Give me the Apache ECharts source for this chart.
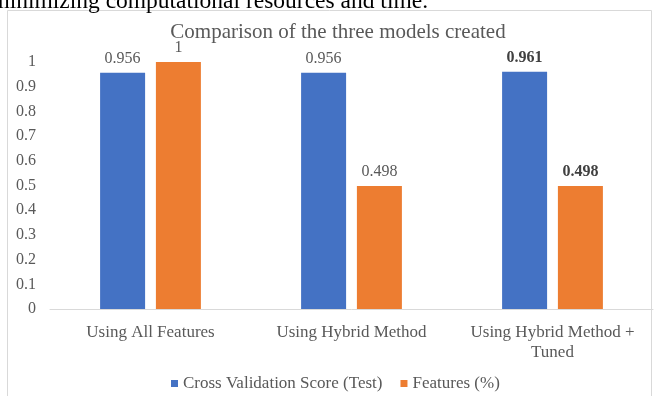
<!DOCTYPE html>
<html>
<head>
<meta charset="utf-8">
<script src="https://cdn.jsdelivr.net/npm/echarts@6/dist/echarts.min.js"></script>
<style>
html,body{margin:0;padding:0;background:#fff;}
#c{width:655px;height:396px;}
</style>
</head>
<body>
<div id="c"></div>
<script>
var categories = ['Using All Features', 'Using Hybrid Method', 'Using Hybrid Method +\nTuned'];
var cvScore = [0.956, 0.956, 0.961];
var featuresPct = [1, 0.498, 0.498];
var seriesNames = ['Cross Validation Score (Test)', 'Features (%)'];
var titleText = 'Comparison of the three models created';
var pageText = 'minimizing computational resources and time.';
var boldIndex = 2;

var serif = "'Liberation Serif', 'DejaVu Serif', serif";
function mk(vals) {
  return vals.map(function (v, i) {
    if (i === boldIndex) {
      return { value: v, label: { fontWeight: 'bold', color: '#404040' } };
    }
    return v;
  });
}

var chart = echarts.init(document.getElementById('c'));
chart.setOption({
  animation: false,
  backgroundColor: '#fff',
  title: {
    text: titleText,
    left: 333, top: 17, textAlign: 'center',
    textStyle: { fontFamily: serif, fontSize: 21, fontWeight: 'normal', color: '#595959' }
  },
  graphic: [
    { type: 'rect', shape: { x: 7.5, y: 10.5, width: 644, height: 400 },
      style: { fill: 'none', stroke: '#d9d9d9', lineWidth: 1 }, z: -1 },
    { type: 'text', x: 428, y: 14,
      style: { text: pageText, fontFamily: serif, fontSize: 23.5, fill: '#000',
               textAlign: 'right', textVerticalAlign: 'bottom' } }
  ],
  legend: {
    data: seriesNames,
    top: 370, left: 166,
    icon: 'rect', itemWidth: 7, itemHeight: 7, itemGap: 18,
    textStyle: { fontFamily: serif, fontSize: 17, color: '#595959' }
  },
  grid: { left: 50, right: 2, top: 62, bottom: 87, containLabel: false },
  xAxis: {
    type: 'category', data: categories,
    axisLine: { lineStyle: { color: '#d9d9d9' } },
    axisTick: { show: false },
    axisLabel: { fontFamily: serif, fontSize: 17, color: '#595959', margin: 14, lineHeight: 20, interval: 0 }
  },
  yAxis: {
    type: 'value', min: 0, max: 1, interval: 0.1,
    splitLine: { show: false },
    axisLine: { show: false },
    axisTick: { show: false },
    axisLabel: { fontFamily: serif, fontSize: 16, color: '#595959', margin: 14 }
  },
  series: [
    { name: seriesNames[0], type: 'bar', data: mk(cvScore), barWidth: 45, barGap: '24%',
      itemStyle: { color: '#4472C4' },
      label: { show: true, position: 'top', distance: 6, fontFamily: serif, fontSize: 16, color: '#595959' } },
    { name: seriesNames[1], type: 'bar', data: mk(featuresPct), barWidth: 45,
      itemStyle: { color: '#ED7D31' },
      label: { show: true, position: 'top', distance: 6, fontFamily: serif, fontSize: 16, color: '#595959' } }
  ]
});
</script>
</body>
</html>
